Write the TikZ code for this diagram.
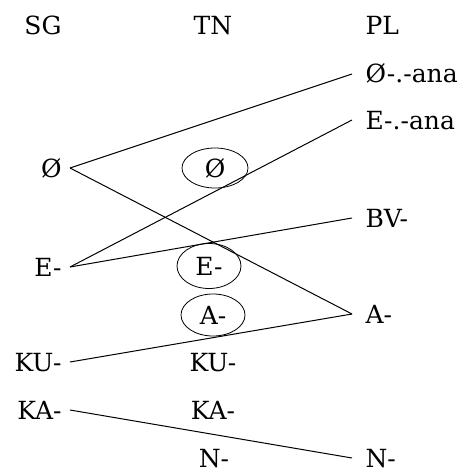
\documentclass[tikz,border=0pt]{standalone}
\usepackage{fontspec}
\setmainfont{DejaVu Serif}
\usetikzlibrary{shapes.geometric}

\begin{document}
\begin{tikzpicture}[
    x=1pt, y=1pt,
    line width=1pt,
    every node/.style={font=\fontsize{25}{30}\selectfont, text height=18pt, text depth=0pt, inner ysep=0pt},
    sg/.style={anchor=base east, inner xsep=8pt},
    tn/.style={anchor=base, inner xsep=0pt},
    pl/.style={anchor=base west, inner xsep=13pt},
    ring/.style={draw, ellipse, line width=0.8pt, minimum width=64pt, minimum height=42pt, inner sep=0pt}
]
\useasboundingbox (0,0) rectangle (462,-468);

\node (hSG)     [sg] at (70,-35)   {SG};
\node (hTN)     [tn] at (213,-35)  {TN};
\node (hPL)     [pl] at (352,-35)  {PL};

\node (plZeroAna) [pl] at (352,-83)  {Ø-.-ana};
\node (plEAna)    [pl] at (352,-129) {E-.-ana};
\node (sgZero)    [sg] at (70,-177)  {Ø};
\node (plBV)      [pl] at (352,-227) {BV-};
\node (sgE)       [sg] at (70,-276)  {E-};
\node (plA)       [pl] at (352,-323) {A-};
\node (sgKU)      [sg] at (70,-371)  {KU-};
\node (tnKU)      [tn] at (213,-371) {KU-};
\node (sgKA)      [sg] at (70,-419)  {KA-};
\node (tnKA)      [tn] at (213,-419) {KA-};
\node (tnN)       [tn] at (214,-467) {N-};
\node (plN)       [pl] at (352,-467) {N-};

% circled TN forms
\node (tnZero) [ring, minimum width=66pt, minimum height=40pt] at (215,-168) {Ø};
\node (tnE)    [ring, minimum height=45pt] at (209,-266) {E-};
\node (tnA)    [ring] at (213,-315) {A-};

% Edges
\draw (sgZero.east) -- (plZeroAna.west);
\draw (sgZero.east) -- (plA.west);
\draw (sgE.east) -- (plEAna.west);
\draw (sgE.east) -- (plBV.west);
\draw (sgKU.east) -- (plA.west);
\draw (sgKA.east) -- (plN.west);

\end{tikzpicture}
\end{document}
